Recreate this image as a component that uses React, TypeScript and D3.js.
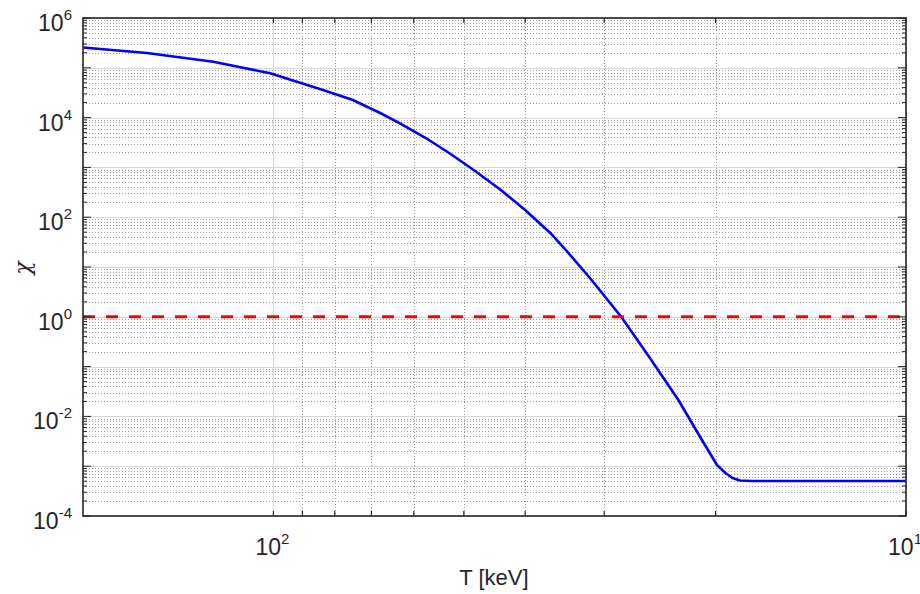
import React from "react";
import * as d3 from "d3";

// Data (x axis is reversed: 200 keV on the left, 10 keV on the right)
const tempKeV = [200, 158.5, 124.5, 101.2, 83.5, 74.9, 67.8, 63.1, 57.6, 52.6, 48.0, 43.8, 40.0, 36.5, 34.6, 31.6, 28.2, 25.4, 22.9, 21.2, 19.9, 19.3, 18.8, 18.3, 17.5, 14.3, 11.8, 10];
const chiLog10 = [5.408, 5.297, 5.122, 4.89, 4.554, 4.353, 4.092, 3.882, 3.6, 3.279, 2.928, 2.556, 2.145, 1.683, 1.361, 0.779, 0.0, -0.827, -1.671, -2.394, -2.976, -3.137, -3.237, -3.287, -3.297, -3.297, -3.297, -3.297];
const chiValues = chiLog10.map((v) => Math.pow(10, v));
const thresholdValue = 1;

const xMajorTicks = [100, 10];
const xMinorTicks = [90, 80, 70, 60, 50, 40, 30, 20];
const yExponents = [-4, -2, 0, 2, 4, 6];
const xLabelExponents = [2, 1];

const W = 920;
const H = 594;
const M = { left: 83, right: 906, top: 18, bottom: 516 };

export default function App() {
  const x = d3.scaleLog().domain([200, 10]).range([M.left, M.right]);
  const y = d3.scaleLog().domain([1e-4, 1e6]).range([M.bottom, M.top]);

  const yMinor: number[] = [];
  for (let e = -4; e < 6; e++) {
    for (let k = 2; k <= 9; k++) yMinor.push(k * Math.pow(10, e));
  }
  const yMajor = d3.range(-4, 7).map((e) => Math.pow(10, e));

  const line = d3
    .line<number>()
    .x((_, i) => x(tempKeV[i]))
    .y((d) => y(d))
    .curve(d3.curveLinear);

  const font = "'Liberation Sans', Arial, Helvetica, sans-serif";
  const axisColor = "#262626";
  const minorGrid = "#9c9c9c";
  const majorGrid = "#d8d8d8";

  return (
    <svg
      width={W}
      height={H}
      style={{ position: "absolute", left: 0, top: 0, background: "#fff" }}
    >
      <rect x={0} y={0} width={W} height={H} fill="#fff" />
      {/* minor horizontal gridlines */}
      {yMinor.map((v, i) => (
        <line key={"ym" + i} x1={M.left} x2={M.right} y1={Math.round(y(v)) + 0.5} y2={Math.round(y(v)) + 0.5} stroke={minorGrid} strokeWidth={1} strokeDasharray="1,2" />
      ))}
      {/* minor vertical gridlines */}
      {xMinorTicks.map((v, i) => (
        <line key={"xm" + i} x1={Math.round(x(v)) + 0.5} x2={Math.round(x(v)) + 0.5} y1={M.top} y2={M.bottom} stroke={minorGrid} strokeWidth={1} strokeDasharray="1,2" />
      ))}
      {/* major gridlines */}
      {yMajor.map((v, i) => (
        <line key={"yM" + i} x1={M.left} x2={M.right} y1={Math.round(y(v)) + 0.5} y2={Math.round(y(v)) + 0.5} stroke={majorGrid} strokeWidth={1} />
      ))}
      {xMajorTicks.map((v, i) => (
        <line key={"xM" + i} x1={Math.round(x(v)) + 0.5} x2={Math.round(x(v)) + 0.5} y1={M.top} y2={M.bottom} stroke={majorGrid} strokeWidth={1} />
      ))}

      {/* data */}
      <path d={line(chiValues) || ""} fill="none" stroke="#0000ff" strokeWidth={2.6} strokeLinejoin="round" />
      <line x1={M.left} x2={M.right} y1={y(thresholdValue)} y2={y(thresholdValue)} stroke="#ff0000" strokeWidth={3} strokeDasharray="12,11" />

      {/* ticks */}
      {yMinor.map((v, i) => (
        <g key={"ymt" + i}>
          <line x1={M.left} x2={M.left + 4} y1={y(v)} y2={y(v)} stroke={axisColor} strokeWidth={1} />
          <line x1={M.right} x2={M.right - 4} y1={y(v)} y2={y(v)} stroke={axisColor} strokeWidth={1} />
        </g>
      ))}
      {yMajor.map((v, i) => (
        <g key={"yMt" + i}>
          <line x1={M.left} x2={M.left + 8} y1={y(v)} y2={y(v)} stroke={axisColor} strokeWidth={1} />
          <line x1={M.right} x2={M.right - 8} y1={y(v)} y2={y(v)} stroke={axisColor} strokeWidth={1} />
        </g>
      ))}
      {[...xMinorTicks, ...xMajorTicks].map((v, i) => (
        <g key={"xt" + i}>
          <line x1={x(v)} x2={x(v)} y1={M.bottom} y2={M.bottom - 5} stroke={axisColor} strokeWidth={1.2} />
          <line x1={x(v)} x2={x(v)} y1={M.top} y2={M.top + 5} stroke={axisColor} strokeWidth={1.2} />
        </g>
      ))}

      {/* box */}
      <rect x={M.left} y={M.top} width={M.right - M.left} height={M.bottom - M.top} fill="none" stroke={axisColor} strokeWidth={1.6} />

      {/* y tick labels */}
      {yExponents.map((e) => (
        <text key={"yl" + e} x={72} y={y(Math.pow(10, e)) + 13} textAnchor="end" fontFamily={font} fontSize={23} fill="#262626">
          10
          <tspan fontSize={15} dy={-11}>{String(e)}</tspan>
        </text>
      ))}
      {/* x tick labels */}
      {xLabelExponents.map((e) => (
        <text key={"xl" + e} x={x(Math.pow(10, e)) - 1} y={555} textAnchor="middle" fontFamily={font} fontSize={23} fill="#262626">
          10
          <tspan fontSize={15} dy={-11}>{e}</tspan>
        </text>
      ))}

      {/* axis labels */}
      <text x={494} y={585} textAnchor="middle" fontFamily={font} fontSize={22} fill="#262626">
        T [keV]
      </text>
      <text transform="translate(30,268) rotate(-90)" textAnchor="middle" fontFamily="'DejaVu Serif', serif" fontStyle="italic" fontSize={22} fill="#262626">
        χ
      </text>
    </svg>
  );
}
